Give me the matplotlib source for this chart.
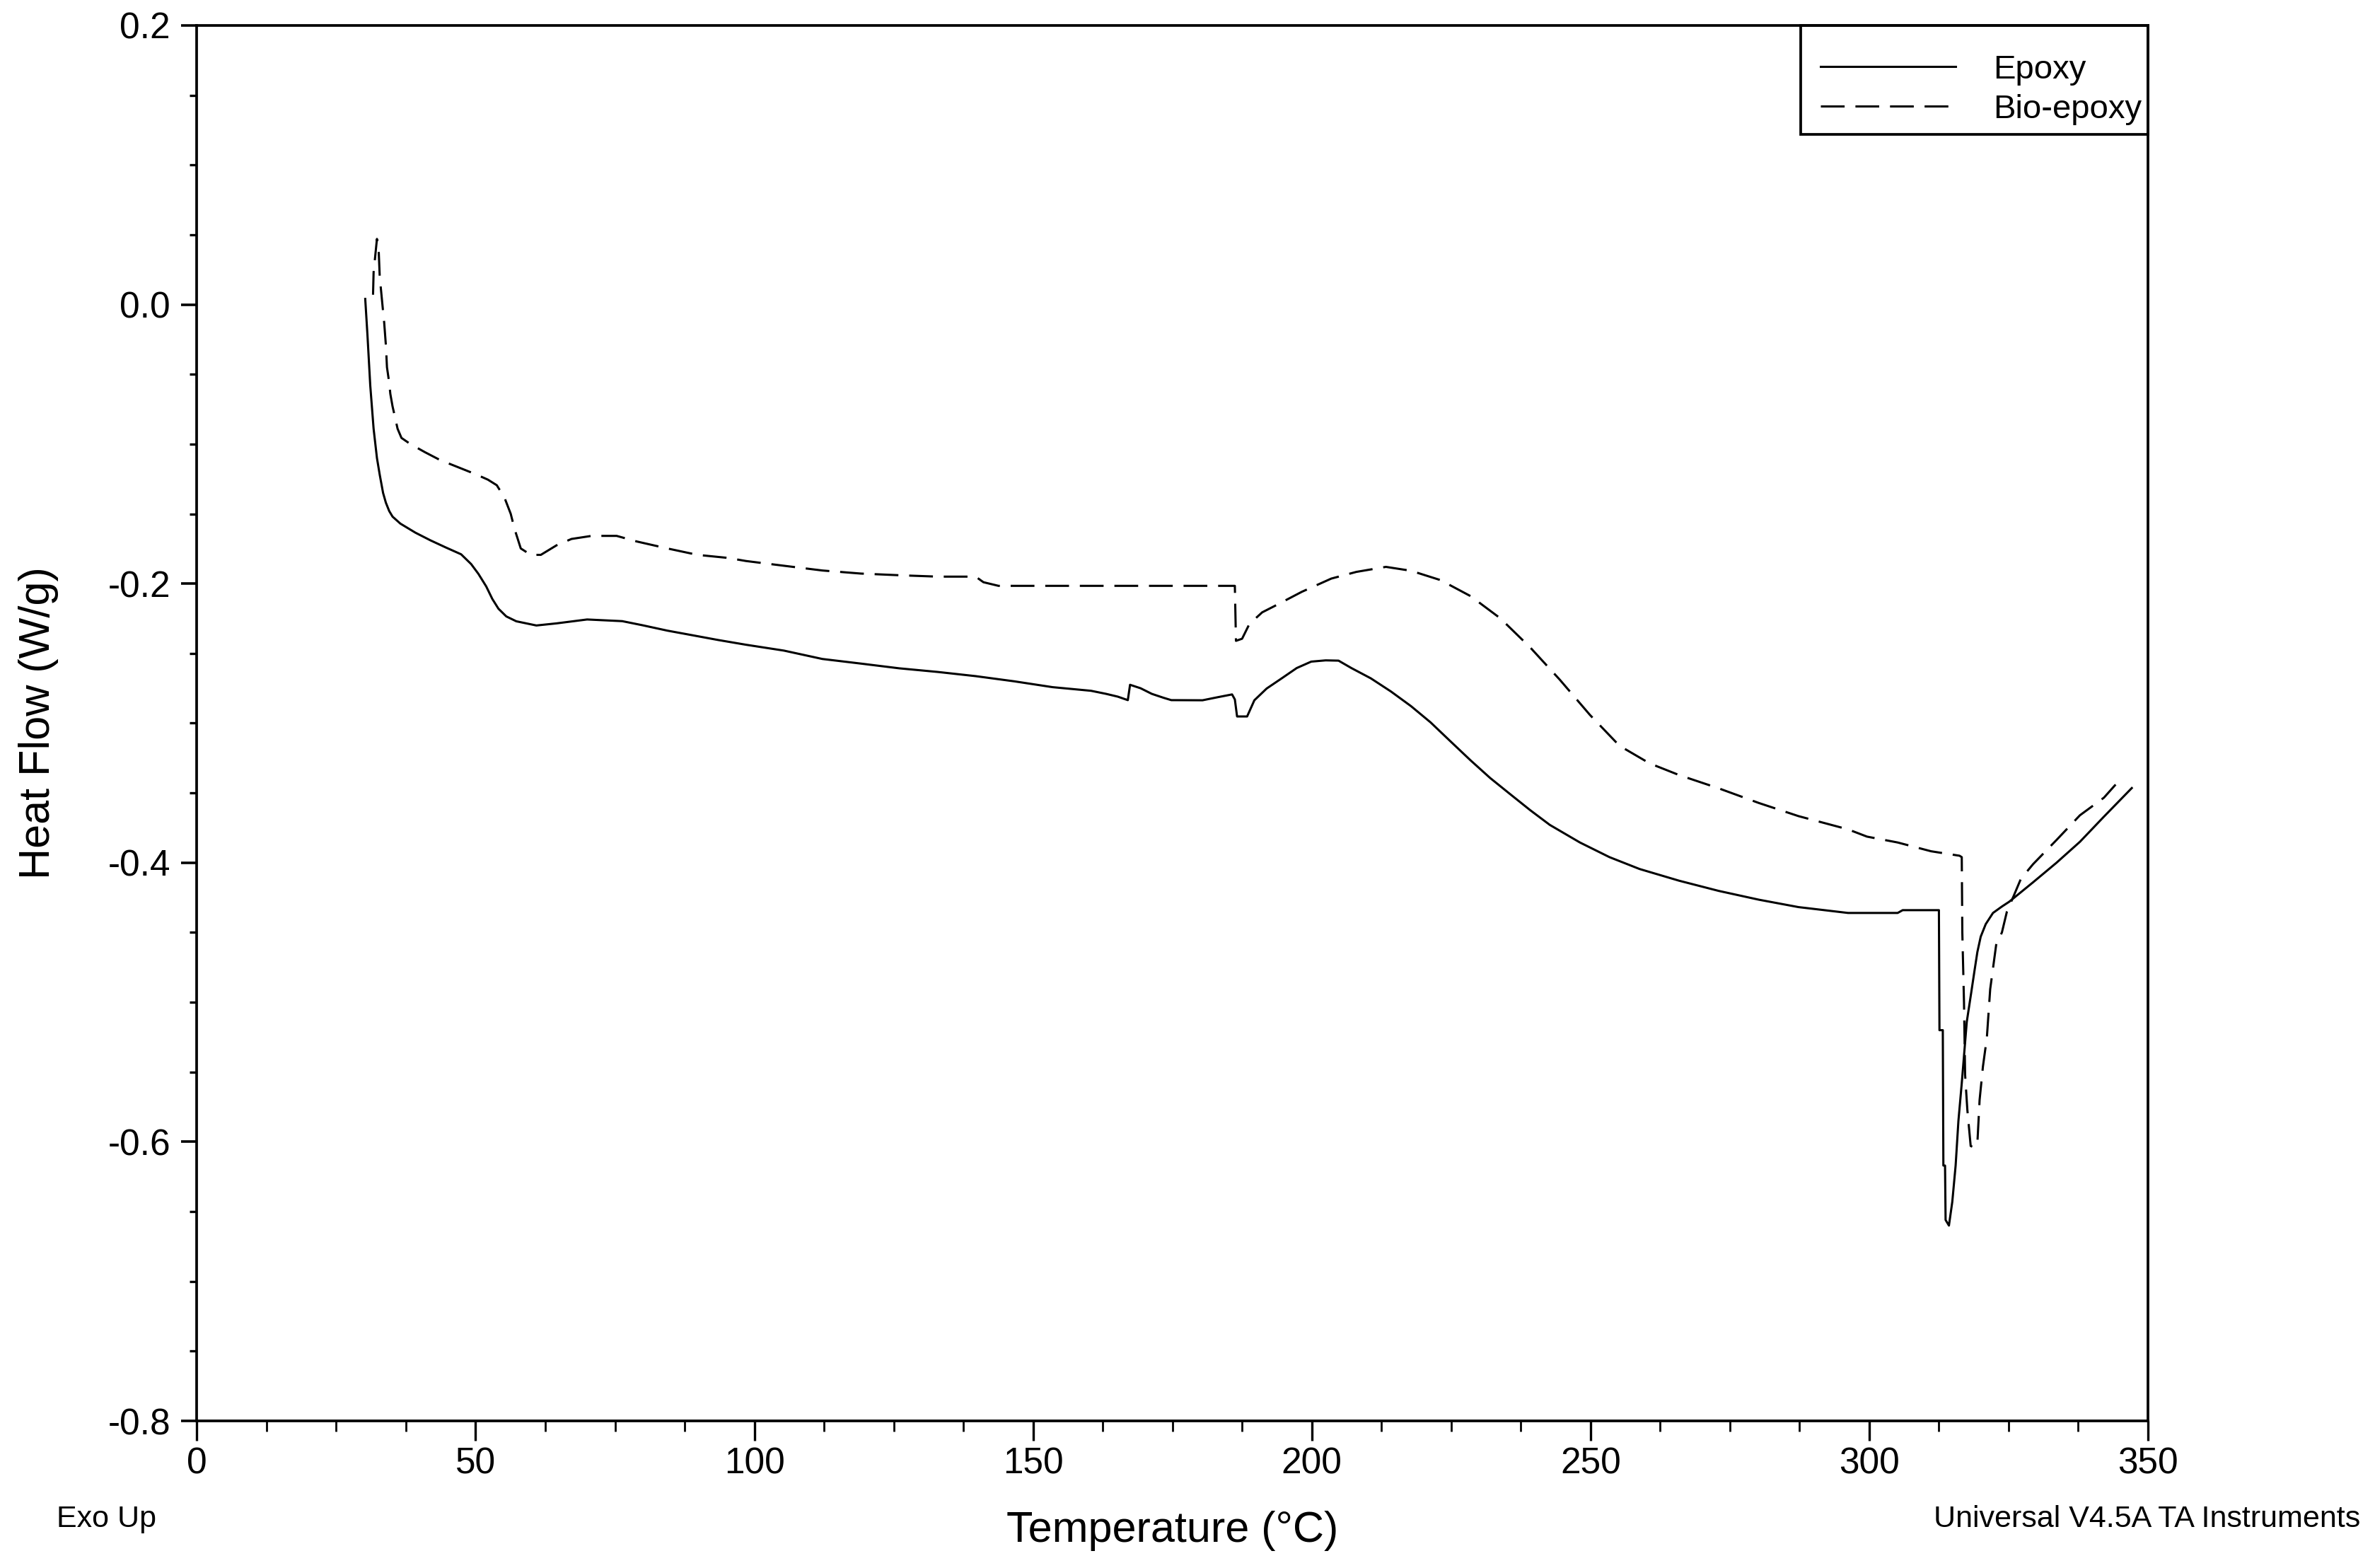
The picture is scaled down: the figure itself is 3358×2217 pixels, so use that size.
import matplotlib
matplotlib.use("Agg")
import matplotlib.pyplot as plt
from matplotlib.patches import Rectangle
from matplotlib.ticker import MultipleLocator, FixedLocator

plt.rcParams['font.family'] = ['Liberation Sans', 'DejaVu Sans']

# ---- data ----
epoxy_T = [30.2, 30.6, 31.1, 31.7, 32.3, 32.8, 33.4, 33.9, 34.5, 35.1, 36.5, 39.2, 41.9,
           44.6, 47.4, 49.2, 50.5, 51.9, 53.0, 54.1, 55.5, 57.3, 60.9, 64.5, 70.0, 76.3,
           79.9, 84.4, 88.9, 93.5, 98.5, 105.3, 112.2, 119.1, 126.0, 132.9, 139.7, 146.6,
           153.5, 160.4, 163.1, 165.2, 167.0, 167.4, 169.3, 171.3, 173.4, 174.8, 180.4,
           183.0, 185.7, 186.2, 186.6, 188.4, 189.7, 191.9, 194.6, 197.3, 199.9, 202.5,
           204.8, 207.1, 210.6, 214.2, 217.8, 221.3, 224.9, 228.5, 232.0, 235.6, 239.2,
           242.7, 248.1, 253.4, 258.8, 265.9, 273.0, 280.2, 287.3, 296.2, 305.1, 306.0,
           312.5, 312.6, 313.2, 313.3, 313.6, 313.7, 314.3, 314.9, 315.5, 316.0, 316.6,
           317.5, 318.3, 318.9, 319.4, 320.0, 320.9, 322.2, 323.8, 325.1, 329.4, 333.6,
           337.8, 342.1, 347.1]
epoxy_HF = [0.004, -0.022, -0.058, -0.089, -0.110, -0.122, -0.135, -0.142, -0.148, -0.152,
            -0.157, -0.1635, -0.169, -0.174, -0.179, -0.186, -0.193, -0.202, -0.211, -0.218,
            -0.2235, -0.227, -0.230, -0.2285, -0.2257, -0.2269, -0.2298, -0.2337, -0.237,
            -0.2404, -0.2438, -0.248, -0.254, -0.2573, -0.2607, -0.2633, -0.2663, -0.270,
            -0.2742, -0.2768, -0.279, -0.281, -0.2835, -0.2725, -0.275, -0.279, -0.2818,
            -0.2835, -0.2836, -0.2815, -0.2794, -0.2830, -0.2952, -0.2952, -0.2836, -0.2752,
            -0.2679, -0.2605, -0.2559, -0.2550, -0.2552, -0.2605, -0.2679, -0.2773, -0.2878,
            -0.2994, -0.3131, -0.3267, -0.3393, -0.3509, -0.3624, -0.3729, -0.3855, -0.396,
            -0.4045, -0.4129, -0.4202, -0.4265, -0.4318, -0.436, -0.436, -0.434, -0.434,
            -0.520, -0.520, -0.617, -0.617, -0.656, -0.660, -0.643, -0.617, -0.585, -0.558,
            -0.514, -0.493, -0.477, -0.464, -0.453, -0.444, -0.436, -0.4314, -0.428, -0.414,
            -0.400, -0.385, -0.367, -0.3465]

bio_T = [31.6, 31.7, 32.0, 32.3, 32.6, 32.8, 33.4, 33.6, 33.9, 34.1, 34.5, 34.7, 35.1, 35.5,
         36.0, 36.7, 38.3, 40.9, 43.6, 46.8, 50.0, 52.2, 53.8, 55.2, 56.3, 57.0, 58.1, 59.9,
         61.7, 64.5, 67.2, 70.8, 75.3, 78.9, 84.4, 89.8, 95.3, 98.5, 105.3, 112.2, 119.1,
         126.0, 132.9, 139.7, 141.1, 143.8, 186.2, 186.4, 187.5, 188.8, 191.1, 193.7, 198.2,
         203.5, 208.0, 213.3, 217.8, 223.1, 228.5, 233.8, 239.2, 244.5, 249.9, 255.2, 260.6,
         265.9, 273.0, 280.2, 287.3, 296.2, 299.6, 305.1, 311.1, 316.2, 316.6, 316.7, 317.0,
         317.2, 317.6, 318.2, 318.8, 319.4, 319.8, 320.4, 321.1, 321.7, 322.8, 323.8, 324.7,
         326.0, 327.2, 329.4, 333.6, 337.8, 342.1, 344.2]
bio_HF = [0.007, 0.023, 0.035, 0.047, 0.040, 0.020, -0.005, -0.013, -0.029, -0.045, -0.056,
          -0.064, -0.073, -0.080, -0.089, -0.0956, -0.100, -0.1058, -0.1114, -0.1165, -0.1216,
          -0.1255, -0.1295, -0.1386, -0.150, -0.161, -0.1748, -0.1794, -0.1794, -0.1726,
          -0.168, -0.1658, -0.1658, -0.1698, -0.1748, -0.1794, -0.1816, -0.1838, -0.1872,
          -0.1906, -0.1928, -0.194, -0.195, -0.195, -0.199, -0.2016, -0.2016, -0.2410,
          -0.2395, -0.229, -0.2206, -0.2153, -0.2059, -0.1964, -0.1916, -0.188, -0.1908,
          -0.1975, -0.209, -0.2248, -0.2458, -0.2689, -0.2941, -0.3162, -0.3288, -0.3372,
          -0.3467, -0.3572, -0.3666, -0.3761, -0.3813, -0.3855, -0.3918, -0.395, -0.396,
          -0.45, -0.50, -0.552, -0.577, -0.603, -0.604, -0.601, -0.570, -0.546, -0.5255,
          -0.4906, -0.458, -0.450, -0.435, -0.423, -0.4116, -0.401, -0.3837, -0.366, -0.3534,
          -0.344]

labels = ["Epoxy", "Bio-epoxy"]
x_ticks = [0, 50, 100, 150, 200, 250, 300, 350]
y_ticks = [0.2, 0.0, -0.2, -0.4, -0.6, -0.8]

# ---- figure ----
W, H = 3358, 2217
fig = plt.figure(figsize=(W / 200, H / 200), dpi=200)
ax = fig.add_axes([0.0829, 0.0938, 0.8215, 0.8900])

lw = 1.1
ax.plot(epoxy_T, epoxy_HF, color='black', lw=lw, ls='-', label=labels[0])
ax.plot(bio_T, bio_HF, color='black', lw=lw, ls=(0, (11, 5)), label=labels[1])

ax.set_xlim(0, 350)
ax.set_ylim(-0.8, 0.2)
ax.xaxis.set_major_locator(FixedLocator(x_ticks))
ax.yaxis.set_major_locator(FixedLocator(y_ticks))
ax.xaxis.set_minor_locator(MultipleLocator(12.5))
ax.yaxis.set_minor_locator(MultipleLocator(0.05))
ax.set_xticklabels([str(v) for v in x_ticks])
ax.set_yticklabels([f"{v:.1f}" for v in y_ticks])

for s in ax.spines.values():
    s.set_linewidth(1.35)

ax.tick_params(axis='x', which='major', direction='out', length=10, width=1.2,
               labelsize=18.5, pad=3)
ax.tick_params(axis='x', which='minor', direction='out', length=5.3, width=1.0)
ax.tick_params(axis='y', which='major', direction='out', length=8, width=1.3,
               labelsize=18.5, pad=5.5)
ax.tick_params(axis='y', which='minor', direction='out', length=3.6, width=1.2)

ax.set_xlabel("Temperature (°C)", fontsize=22, labelpad=15)
ax.set_ylabel("Heat Flow (W/g)", fontsize=22, labelpad=25)

fig.text(151 / W, 1 - 2148 / H, "Exo Up", fontsize=15.5, ha='center', va='center')
fig.text(3337 / W, 1 - 2148 / H, "Universal V4.5A TA Instruments", fontsize=15.5,
         ha='right', va='center')

# legend frame (box touching top and right spines)
ax.add_patch(Rectangle((0.8220, 0.9219), 1.0 - 0.8220, 1.0 - 0.9219,
                       transform=ax.transAxes, fill=False, edgecolor='black',
                       linewidth=1.35, zorder=5, clip_on=False))
leg = ax.legend(loc='upper left', bbox_to_anchor=(2574 / W, 1 - 77 / H),
                bbox_transform=fig.transFigure, fontsize=17, frameon=False,
                borderaxespad=0, borderpad=0, handlelength=4.05,
                handletextpad=1.12, labelspacing=0.25)

fig.savefig("out.png", dpi=200, facecolor='white')
